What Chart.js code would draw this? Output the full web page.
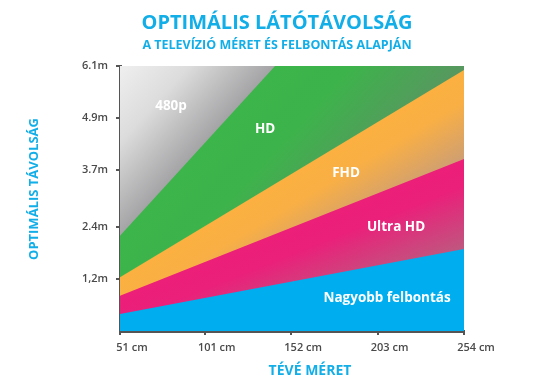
<!DOCTYPE html>
<html lang="hu">
<head>
  <meta charset="UTF-8">
  <title>Optimális látótávolság</title>
  <script src="https://cdn.jsdelivr.net/npm/chart.js"></script>
  <style>
    html, body { margin: 0; padding: 0; background: #fff; }
    #wrap { width: 557px; height: 383px; }
  </style>
</head>
<body>
  <div id="wrap"><canvas id="chart" width="557" height="383"></canvas></div>

  <script>
    // Data (distance in metres, TV size in cm)
    const sizeTicks = [51, 101, 152, 203, 254];
    const distTicks = [1.2, 2.4, 3.7, 4.9, 6.1];
    const distTickLabels = ['1,2m', '2.4m', '3.7m', '4.9m', '6.1m'];

    const edgeCm = [51, 254];
    const nagyobbTop = [0.39, 1.89];
    const ultraHdTop = [0.81, 3.96];
    const fhdTop = [1.24, 6.01];
    const hdCm = [51, 142.5, 254];
    const hdTop = [2.19, 6.1, 6.1];
    const sd480Top = [6.1, 6.1];

    const bandNames = ['Nagyobb felbontás', 'Ultra HD', 'FHD', 'HD', '480p'];
    const labelCm = [208.6, 213.9, 184.4, 136.6, 81.1];
    const labelM = [0.76, 2.39, 3.64, 4.65, 5.18];

    const CYAN = '#12aee8';

    const pts = (xs, ys) => xs.map((x, i) => ({ x: x, y: ys[i] }));

    // shading that runs across a band: from its edge line (lx, ly) towards the far point (fx, fy)
    function shade(lx, ly, fx, fy, stops) {
      return function (c) {
        const ch = c.chart;
        if (!ch.chartArea) return stops[0][1];
        const xs = ch.scales.x, ys = ch.scales.y;
        const ax = xs.getPixelForValue(lx[0]), ay = ys.getPixelForValue(ly[0]);
        const bx = xs.getPixelForValue(lx[1]), by = ys.getPixelForValue(ly[1]);
        const len = Math.hypot(bx - ax, by - ay);
        let nx = -(by - ay) / len, ny = (bx - ax) / len;
        const px = xs.getPixelForValue(fx), py = ys.getPixelForValue(fy);
        let d = (px - ax) * nx + (py - ay) * ny;
        if (d < 0) { nx = -nx; ny = -ny; d = -d; }
        const g = ch.ctx.createLinearGradient(ax, ay, ax + nx * d, ay + ny * d);
        stops.forEach(s => g.addColorStop(s[0], s[1]));
        return g;
      };
    }

    function band(label, data, bg) {
      return {
        label: label, data: data, backgroundColor: bg,
        fill: 'origin', borderWidth: 0, pointRadius: 0, tension: 0
      };
    }

    const textPlugin = {
      id: 'texts',
      afterDraw(chart) {
        const ctx = chart.ctx;
        const xs = chart.scales.x, ys = chart.scales.y;
        ctx.save();
        ctx.textAlign = 'center';
        ctx.textBaseline = 'middle';

        // band labels
        ctx.fillStyle = '#fff';
        ctx.font = 'bold 13.5px "Open Sans", sans-serif';
        bandNames.forEach((t, i) => {
          ctx.fillText(t, xs.getPixelForValue(labelCm[i]), ys.getPixelForValue(labelM[i]));
        });

        // titles
        ctx.fillStyle = CYAN;
        ctx.font = 'bold 20px "Open Sans", sans-serif';
        ctx.fillText('OPTIMÁLIS LÁTÓTÁVOLSÁG', 277, 23);
        ctx.font = 'bold 12.5px "Open Sans", sans-serif';
        ctx.fillText('A TELEVÍZIÓ MÉRET ÉS FELBONTÁS ALAPJÁN', 277, 45);

        ctx.font = 'bold 14px "Open Sans", sans-serif';
        ctx.fillText('TÉVÉ MÉRET', 310, 371);

        ctx.translate(34, 189);
        ctx.rotate(-Math.PI / 2);
        ctx.font = 'bold 13px "Open Sans", sans-serif';
        ctx.fillText('OPTIMÁLIS TÁVOLSÁG', 0, 0);
        ctx.restore();
      }
    };

    new Chart(document.getElementById('chart'), {
      type: 'line',
      data: {
        datasets: [
          band(bandNames[0], pts(edgeCm, nagyobbTop), '#00aeef'),
          band(bandNames[1], pts(edgeCm, ultraHdTop),
            shade(edgeCm, ultraHdTop, 254, nagyobbTop[1],
              [[0, '#ec1f79'], [0.3, '#ea207a'], [1, '#bf577f']])),
          band(bandNames[2], pts(edgeCm, fhdTop),
            shade(edgeCm, fhdTop, 254, ultraHdTop[1],
              [[0, '#fbb040'], [0.35, '#f9af44'], [1, '#cf9f72']])),
          band(bandNames[3], pts(hdCm, hdTop),
            shade(hdCm, hdTop, 254, fhdTop[1],
              [[0, '#3cb54a'], [0.4, '#3db34b'], [1, '#589760']])),
          band(bandNames[4], pts(hdCm, sd480Top),
            shade(hdCm, hdTop, 51, 6.1,
              [[0, '#a4a4a6'], [0.55, '#dcdcdc'], [1, '#efefef']]))
        ]
      },
      options: {
        responsive: false,
        animation: false,
        layout: { padding: { top: 66, right: 93, left: 0, bottom: 0 } },
        plugins: { legend: { display: false }, tooltip: { enabled: false } },
        scales: {
          x: {
            type: 'linear', min: 51, max: 254,
            afterFit: s => { s.height = 52; },
            afterBuildTicks: s => { s.ticks = sizeTicks.map(v => ({ value: v })); },
            border: { color: '#555', width: 3 },
            grid: { drawOnChartArea: false, color: '#555', lineWidth: 2, tickLength: 4 },
            ticks: {
              color: '#4a4a4a', padding: 6, labelOffset: 12, maxRotation: 0,
              font: { family: '"Open Sans", sans-serif', size: 11, weight: '600' },
              callback: v => v + ' cm'
            }
          },
          y: {
            type: 'linear', min: 0, max: 6.1,
            afterFit: s => { s.width = 120; },
            afterBuildTicks: s => { s.ticks = distTicks.map(v => ({ value: v })); },
            border: { color: '#555', width: 3 },
            grid: { drawOnChartArea: false, color: '#555', lineWidth: 2, tickLength: 4 },
            ticks: {
              color: '#4a4a4a', padding: 8,
              font: { family: '"Open Sans", sans-serif', size: 11, weight: '600' },
              callback: v => distTickLabels[distTicks.indexOf(v)]
            }
          }
        }
      },
      plugins: [textPlugin]
    });
  </script>
</body>
</html>
